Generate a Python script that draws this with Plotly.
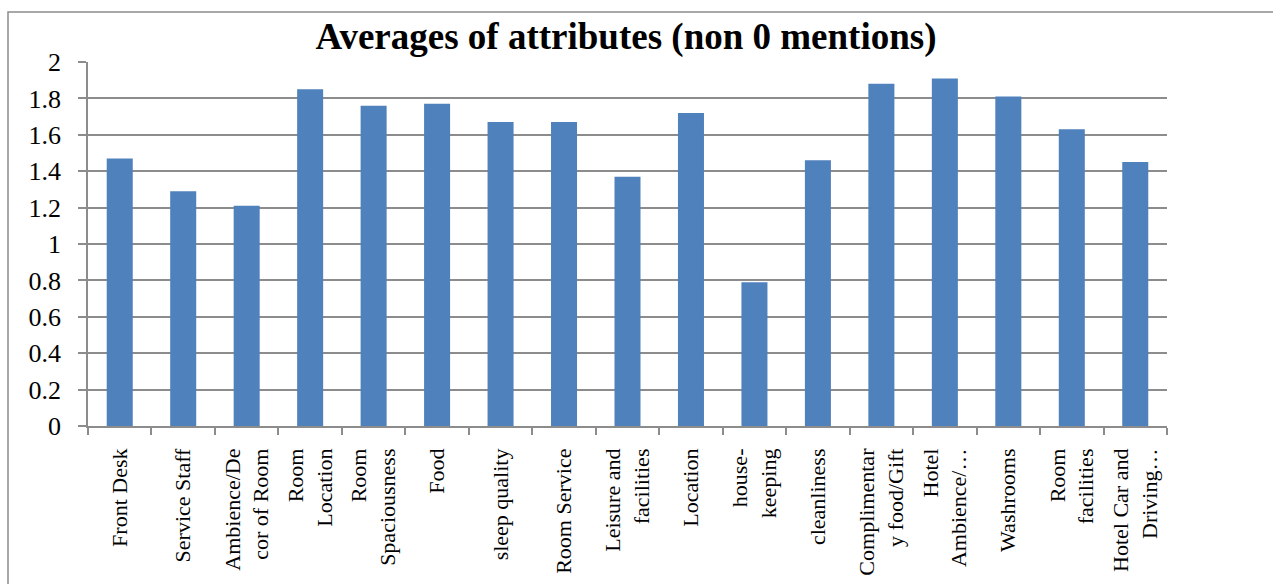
import plotly.graph_objects as go

categories = [
    "Front Desk", "Service Staff", "Ambience/De<br>cor of Room", "Room<br>Location",
    "Room<br>Spaciousness", "Food", "sleep quality", "Room Service",
    "Leisure and<br>facilities", "Location", "house-<br>keeping", "cleanliness",
    "Complimentar<br>y food/Gift", "Hotel<br>Ambience/…", "Washrooms",
    "Room<br>facilities", "Hotel Car and<br>Driving…",
]
values = [1.47, 1.29, 1.21, 1.85, 1.76, 1.77, 1.67, 1.67, 1.37, 1.72, 0.79,
          1.46, 1.88, 1.91, 1.81, 1.63, 1.45]
y_ticks = [0, 0.2, 0.4, 0.6, 0.8, 1, 1.2, 1.4, 1.6, 1.8, 2]
y_tick_text = ["0", "0.2", "0.4", "0.6", "0.8", "1", "1.2", "1.4", "1.6", "1.8", "2"]

W, H = 1273, 584
L, R, T, B = 88, 106, 62, 158
pw, ph = W - L - R, H - T - B

def px_x(px):
    return (px - L) / pw

def px_y(py):
    return (H - B - py) / ph

fig = go.Figure(go.Bar(
    x=categories, y=values, marker=dict(color="#4F81BD", line=dict(width=0)),
))

grid_col = "#8C8C8C"
serif = "Liberation Serif, Times New Roman, serif"
fig.update_layout(
    width=W, height=H,
    margin=dict(l=L, r=R, t=T, b=B, autoexpand=False),
    paper_bgcolor="white", plot_bgcolor="white",
    bargap=0.59,
    showlegend=False,
    font=dict(family=serif, color="black"),
    title=dict(
        text="<b>Averages of attributes (non 0 mentions)</b>",
        font=dict(size=37, family=serif, color="black"),
        x=626 / W, xref="container", xanchor="center",
        y=1 - 49 / H, yref="container", yanchor="bottom",
    ),
    xaxis=dict(
        type="category", tickangle=-90, tickson="boundaries", automargin=False,
        ticks="outside", ticklen=7, tickcolor=grid_col, tickwidth=1.5,
        showline=True, linecolor=grid_col, linewidth=1.5,
        showgrid=False, tickfont=dict(size=22), ticklabelstandoff=12,
    ),
    yaxis=dict(
        range=[0, 2], tickvals=y_ticks, ticktext=y_tick_text, automargin=False,
        ticks="outside", ticklen=8, tickcolor=grid_col, tickwidth=1.5,
        showline=True, linecolor=grid_col, linewidth=1.5,
        showgrid=True, gridcolor=grid_col, gridwidth=1.5,
        zeroline=False, tickfont=dict(size=26), ticklabelstandoff=12,
    ),
    shapes=[dict(
        type="rect", xref="paper", yref="paper",
        x0=px_x(8), x1=px_x(1300), y0=px_y(620), y1=px_y(12),
        line=dict(color="#8C8C8C", width=1.5), fillcolor="rgba(0,0,0,0)",
        layer="below",
    )],
)

fig.write_html("out.html")
